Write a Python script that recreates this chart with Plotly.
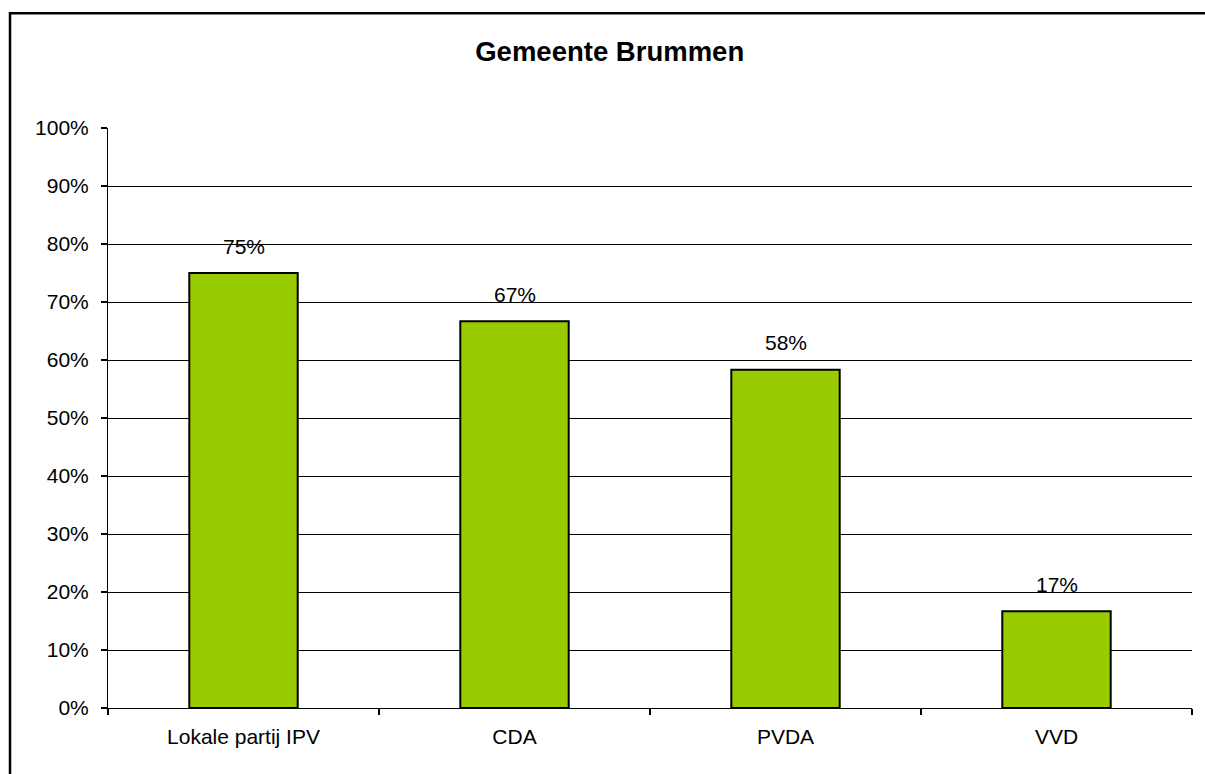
import plotly.graph_objects as go

categories = ["Lokale partij IPV", "CDA", "PVDA", "VVD"]
values = [0.75, 0.6667, 0.5833, 0.1667]
labels = ["75%", "67%", "58%", "17%"]
title_text = "Gemeente Brummen"

FONT = "Liberation Sans, Arial, sans-serif"

fig = go.Figure()
fig.add_trace(go.Bar(
    x=categories, y=values, width=0.4,
    marker=dict(color="#99CC00", line=dict(color="black", width=2)),
    hoverinfo="skip", showlegend=False,
))

for c, v, t in zip(categories, values, labels):
    fig.add_annotation(x=c, y=v, text=t, showarrow=False, yanchor="middle",
                       yshift=27, font=dict(family=FONT, size=21, color="black"))

# hide gridline at 100%
fig.add_shape(type="line", xref="paper", yref="y", x0=0, x1=1, y0=1, y1=1,
              line=dict(color="white", width=3), layer="below")

# outer chart border
fig.add_shape(type="rect", xref="paper", yref="paper", x0=-0.0904, x1=1.05,
              y0=-0.3, y1=1.198, line=dict(color="black", width=2.5))

fig.update_layout(
    width=1205, height=774, autosize=False,
    margin=dict(l=108, r=13, t=128, b=66),
    paper_bgcolor="white", plot_bgcolor="white",
    font=dict(family=FONT, size=21, color="black"),
    title=dict(text="<b>" + title_text + "</b>", xref="container", yref="container",
               x=0.506, y=1 - 51 / 774, xanchor="center", yanchor="middle",
               font=dict(family=FONT, size=27.5, color="black")),
    bargap=0.6,
)
fig.update_xaxes(
    type="category", showgrid=False, showline=True, linecolor="black", linewidth=1,
    ticks="outside", tickson="boundaries", ticklen=6, tickcolor="black", tickwidth=1.5,
    ticklabelstandoff=10, tickfont=dict(family=FONT, size=21, color="black"),
)
fig.update_yaxes(
    range=[0, 1], dtick=0.1, tickformat=".0%", showgrid=True, gridcolor="black",
    gridwidth=1, showline=True, linecolor="black", linewidth=1, zeroline=False,
    ticks="outside", ticklen=6, tickcolor="black", tickwidth=1.5,
    ticklabelstandoff=8, tickfont=dict(family=FONT, size=21, color="black"),
)

fig.write_html(
    "out.html",
    config={"displayModeBar": False, "staticPlot": True},
    post_script="document.body.style.margin='0';document.body.style.padding='0';"
                "document.body.style.overflow='hidden';",
)
